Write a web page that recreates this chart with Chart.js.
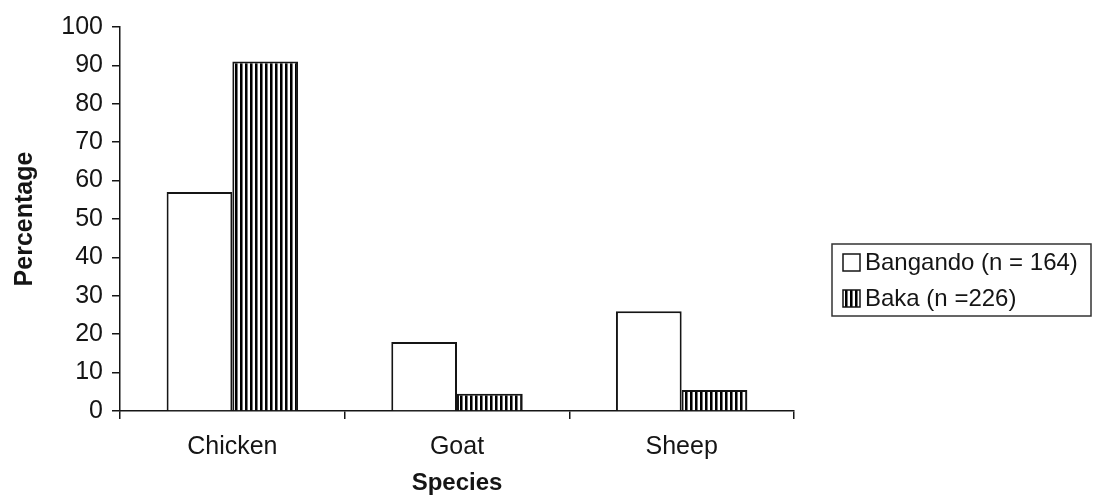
<!DOCTYPE html>
<html>
<head>
<meta charset="utf-8">
<script src="https://cdn.jsdelivr.net/npm/chart.js@4"></script>
<style>
    html, body { margin: 0; padding: 0; background: #fff; }
    #wrap { width: 1094px; height: 495px; }
</style>
</head>
<body>
<div id="wrap"><canvas id="chart"></canvas></div>
<script>
const species = ['Chicken', 'Goat', 'Sheep'];
const bangando = [57, 18, 26];
const baka = [91, 4.5, 5.5];
const seriesNames = ['Bangando (n = 164)', 'Baka (n =226)'];
const yMin = 0;
const yMax = 100;
const yStep = 10;

const ink = '#151515';
const fontFamily = "'Liberation Sans', Arial, sans-serif";

function stripePattern() {
    const c = document.createElement('canvas');
    c.width = 5;
    c.height = 4;
    const g = c.getContext('2d');
    g.fillStyle = '#fff';
    g.fillRect(0, 0, 5, 4);
    g.fillStyle = '#000';
    g.fillRect(0, 0, 2, 4);
    g.fillStyle = '#777';
    g.fillRect(2, 0, 1, 4);
    return g.createPattern(c, 'repeat');
}

// legend with a frame, drawn to the right of the plot
const boxLegend = {
    id: 'boxLegend',
    afterDraw(chart) {
        const ctx = chart.ctx;
        const x0 = 832, y0 = 244, w = 259, h = 72;
        ctx.save();
        ctx.strokeStyle = '#333';
        ctx.lineWidth = 1.5;
        ctx.strokeRect(x0, y0, w, h);
        ctx.font = '24px ' + fontFamily;
        ctx.textBaseline = 'middle';
        chart.data.datasets.forEach(function(ds, i) {
            const cy = y0 + 18 + i * 36;
            ctx.fillStyle = ds.backgroundColor;
            ctx.fillRect(x0 + 11, cy - 8, 17, 17);
            ctx.strokeStyle = ink;
            ctx.lineWidth = 1.5;
            ctx.strokeRect(x0 + 11, cy - 8, 17, 17);
            ctx.fillStyle = ink;
            ctx.fillText(ds.label, x0 + 33, cy + 1);
        });
        ctx.restore();
    }
};

new Chart(document.getElementById('chart'), {
    type: 'bar',
    data: {
        labels: species,
        datasets: [{
            label: seriesNames[0],
            data: bangando,
            backgroundColor: '#fff',
            borderColor: ink,
            borderWidth: 2
        }, {
            label: seriesNames[1],
            data: baka,
            backgroundColor: stripePattern(),
            borderColor: ink,
            borderWidth: 2
        }]
    },
    options: {
        responsive: true,
        maintainAspectRatio: false,
        animation: false,
        categoryPercentage: 0.585,
        barPercentage: 1.0,
        layout: {
            padding: { top: 27, right: 300, left: 0, bottom: 0 }
        },
        plugins: {
            legend: { display: false },
            tooltip: { enabled: false }
        },
        scales: {
            x: {
                afterFit: function(scale) { scale.height = 84; },
                border: { display: true, color: ink, width: 1.5 },
                grid: {
                    offset: true,
                    drawOnChartArea: false,
                    drawTicks: true,
                    tickLength: 8,
                    color: ink,
                    lineWidth: 1.5
                },
                ticks: {
                    color: ink,
                    padding: 13,
                    font: { family: fontFamily, size: 25 }
                },
                title: {
                    display: true,
                    text: 'Species',
                    color: ink,
                    padding: { top: 0, bottom: 0 },
                    font: { family: fontFamily, size: 24, weight: 'bold', lineHeight: 1 }
                }
            },
            y: {
                min: yMin,
                max: yMax,
                afterFit: function(scale) { scale.width = 120; },
                border: { display: true, color: ink, width: 1.5 },
                grid: {
                    drawOnChartArea: false,
                    drawTicks: true,
                    tickLength: 8,
                    color: ink,
                    lineWidth: 1.5
                },
                ticks: {
                    stepSize: yStep,
                    color: ink,
                    padding: 9,
                    font: { family: fontFamily, size: 25 }
                },
                title: {
                    display: true,
                    text: 'Percentage',
                    color: ink,
                    padding: { top: 10, bottom: 0 },
                    font: { family: fontFamily, size: 25, weight: 'bold' }
                }
            }
        }
    },
    plugins: [boxLegend]
});
</script>
</body>
</html>
